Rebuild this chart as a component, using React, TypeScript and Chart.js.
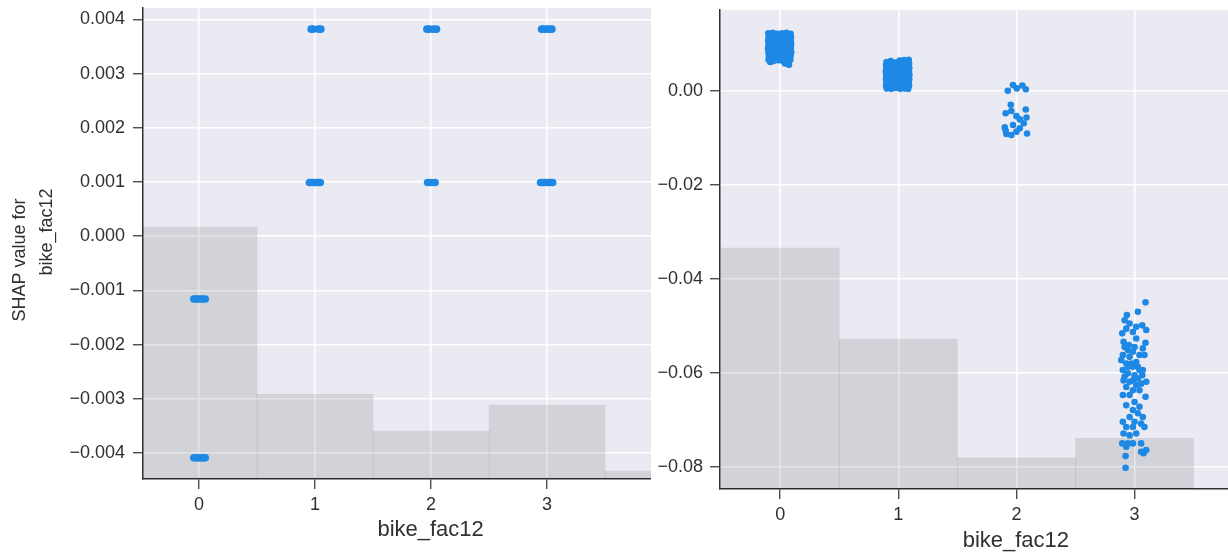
import React, { useEffect, useRef } from "react";
import { Chart, registerables } from "chart.js";

Chart.register(...registerables);

// ---------- data ----------
const X_TICKS = [0, 1, 2, 3];
const X_LABEL = "bike_fac12";
const Y_LABEL_LINES = ["SHAP value for", "bike_fac12"];

const LEFT_Y_TICKS = [-0.004, -0.003, -0.002, -0.001, 0, 0.001, 0.002, 0.003, 0.004];
const LEFT_Y_TICK_LABELS = ["−0.004", "−0.003", "−0.002", "−0.001", "0.000", "0.001", "0.002", "0.003", "0.004"];
const LEFT_X_RANGE = [-0.484, 4.476];
const LEFT_Y_RANGE = [-0.00448, 0.00421];
const LEFT_HIST_BINS = [0, 1, 2, 3, 4];
const LEFT_HIST_COUNTS = [535, 180, 102, 157, 17];
const LEFT_HIST_TOTAL = 1000;

// [jitter offset from category, SHAP value]
const LEFT_POINTS_0: [number, number][] = [
  [-0.046, -0.00116], [-0.028, -0.00116], [-0.01, -0.00116], [0.01, -0.00116], [0.03, -0.00116], [0.053, -0.00116],
  [-0.046, -0.00409], [-0.025, -0.00409], [-0.005, -0.00409], [0.015, -0.00409], [0.035, -0.00409], [0.053, -0.00409],
];
const LEFT_POINTS_1: [number, number][] = [
  [-0.034, 0.00382], [-0.018, 0.00382], [0.03, 0.00382], [0.05, 0.00382],
  [-0.049, 0.00099], [-0.03, 0.00099], [-0.01, 0.00099], [0.01, 0.00099], [0.03, 0.00099], [0.045, 0.00099],
];
const LEFT_POINTS_2: [number, number][] = [
  [-0.036, 0.00382], [-0.015, 0.00382], [0.02, 0.00382], [0.047, 0.00382],
  [-0.03, 0.00099], [0.0, 0.00099], [0.035, 0.00099],
];
const LEFT_POINTS_3: [number, number][] = [
  [-0.047, 0.00382], [-0.025, 0.00382], [0.0, 0.00382], [0.02, 0.00382], [0.042, 0.00382],
  [-0.056, 0.00099], [-0.035, 0.00099], [-0.012, 0.00099], [0.01, 0.00099], [0.03, 0.00099], [0.049, 0.00099],
];

const RIGHT_Y_TICKS = [-0.08, -0.06, -0.04, -0.02, 0];
const RIGHT_Y_TICK_LABELS = ["−0.08", "−0.06", "−0.04", "−0.02", "0.00"];
const RIGHT_X_RANGE = [-0.51, 4.5];
const RIGHT_Y_RANGE = [-0.0847, 0.01717];
const RIGHT_HIST_BINS = [0, 1, 2, 3];
const RIGHT_HIST_COUNTS = [503, 313, 65, 106];
const RIGHT_HIST_TOTAL = 1000;

const RIGHT_POINTS_0: [number, number][] = [
  [-0.101, 0.0122], [-0.062, 0.0123], [-0.022, 0.0121], [0.015, 0.0122], [0.053, 0.0123], [0.088, 0.0121],
  [-0.098, 0.0114], [-0.06, 0.0113], [-0.025, 0.0115], [0.012, 0.0114], [0.05, 0.0112], [0.091, 0.0114],
  [-0.102, 0.0106], [-0.064, 0.0105], [-0.026, 0.0107], [0.016, 0.0106], [0.054, 0.0104], [0.089, 0.0106],
  [-0.099, 0.0098], [-0.061, 0.0097], [-0.023, 0.0099], [0.013, 0.0097], [0.051, 0.0098], [0.092, 0.0099],
  [-0.103, 0.009], [-0.063, 0.0091], [-0.027, 0.0089], [0.017, 0.009], [0.055, 0.0089], [0.09, 0.0091],
  [-0.1, 0.0082], [-0.059, 0.0083], [-0.021, 0.0081], [0.014, 0.0082], [0.049, 0.0083], [0.093, 0.0082],
  [-0.097, 0.0074], [-0.062, 0.0075], [-0.024, 0.0073], [0.011, 0.0074], [0.052, 0.0072], [0.088, 0.0075],
  [-0.099, 0.0066], [-0.058, 0.0063], [-0.02, 0.0065], [0.018, 0.0064], [0.056, 0.0061], [0.086, 0.0066],
  [0.04, 0.0058], [0.074, 0.0055], [-0.085, 0.0061],
];
const RIGHT_POINTS_1: [number, number][] = [
  [-0.1, 0.0061], [-0.064, 0.0063], [-0.027, 0.006], [0.012, 0.0064], [0.05, 0.0065], [0.088, 0.0066],
  [-0.104, 0.0055], [-0.067, 0.0056], [-0.029, 0.0057], [0.009, 0.0056], [0.047, 0.0057], [0.091, 0.0058],
  [-0.102, 0.0048], [-0.065, 0.0049], [-0.026, 0.005], [0.011, 0.0049], [0.049, 0.005], [0.093, 0.0049],
  [-0.106, 0.0041], [-0.068, 0.0042], [-0.03, 0.0041], [0.008, 0.0043], [0.046, 0.0042], [0.09, 0.0041],
  [-0.103, 0.0034], [-0.063, 0.0033], [-0.025, 0.0035], [0.013, 0.0034], [0.051, 0.0033], [0.094, 0.0034],
  [-0.105, 0.0026], [-0.066, 0.0027], [-0.028, 0.0025], [0.01, 0.0026], [0.048, 0.0027], [0.092, 0.0025],
  [-0.101, 0.0018], [-0.064, 0.0019], [-0.027, 0.0017], [0.012, 0.0018], [0.05, 0.0019], [0.089, 0.0017],
  [-0.104, 0.0011], [-0.066, 0.001], [-0.029, 0.0012], [0.009, 0.0011], [0.047, 0.001], [0.091, 0.0011],
  [-0.098, 0.0005], [-0.06, 0.0004], [-0.022, 0.0006], [0.015, 0.0004], [0.053, 0.0005], [0.084, 0.0004],
];
const RIGHT_POINTS_2: [number, number][] = [
  [-0.073, 0.0], [-0.029, 0.0012], [0.003, 0.0005], [0.05, 0.0011], [0.079, 0.0003],
  [-0.048, -0.003],
  [-0.091, -0.0048], [-0.043, -0.0043], [0.0, -0.0054], [0.079, -0.004], [0.085, -0.0057], [0.028, -0.0061],
  [-0.099, -0.0078], [-0.085, -0.0092], [-0.029, -0.0073], [0.028, -0.008], [0.062, -0.0069],
  [0.09, -0.0091], [0.0, -0.0087], [-0.091, -0.0085], [-0.043, -0.0094],
];
const RIGHT_POINTS_3: [number, number][] = [
  [0.093, -0.045], [0.028, -0.047], [-0.065, -0.0477], [-0.084, -0.0488], [-0.042, -0.0495], [0.014, -0.0502],
  [0.065, -0.0499], [0.099, -0.0509], [-0.104, -0.0516], [-0.07, -0.0506], [-0.014, -0.0513],
  [0.014, -0.0527], [0.093, -0.0536], [0.07, -0.0548], [-0.084, -0.0545], [-0.056, -0.0552], [-0.014, -0.0555],
  [-0.099, -0.0562], [-0.042, -0.0566], [0.042, -0.0562], [0.084, -0.0562],
  [-0.07, -0.058], [-0.014, -0.0587], [0.028, -0.0587], [0.07, -0.0594], [-0.099, -0.0594], [-0.056, -0.0601],
  [0.0, -0.0605], [0.065, -0.0605], [0.099, -0.0619], [-0.093, -0.0616], [-0.042, -0.0619], [0.014, -0.0626],
  [0.056, -0.0623], [-0.07, -0.063], [-0.014, -0.0637], [0.042, -0.0637], [-0.099, -0.0647], [-0.042, -0.0647],
  [0.093, -0.0651], [0.0, -0.0662], [-0.07, -0.0669], [0.042, -0.0672], [-0.014, -0.0679], [0.028, -0.0686],
  [0.07, -0.0694], [-0.042, -0.0694], [-0.099, -0.0704], [0.0, -0.0704], [0.056, -0.0708], [-0.07, -0.0715],
  [-0.014, -0.0715], [0.084, -0.0715], [-0.093, -0.0729], [-0.042, -0.0733], [0.014, -0.0729],
  [-0.104, -0.075], [-0.056, -0.075], [-0.014, -0.075], [0.056, -0.075], [-0.07, -0.0757],
  [0.099, -0.0764], [0.076, -0.0771], [-0.076, -0.0777], [0.056, -0.0768], [-0.076, -0.0802],
  [-0.093, -0.0534], [-0.048, -0.0541], [0.0, -0.0545], [-0.112, -0.0573], [0.014, -0.0577], [-0.028, -0.058],
  [-0.084, -0.0608], [0.028, -0.0612], [-0.014, -0.0616], [-0.056, -0.0587], [0.042, -0.0594],
];

// ---------- style ----------
const FONT = '"Liberation Sans", Arial, sans-serif';
const TEXT_COLOR = "#303030";
const PLOT_BG = "#EAEAF2";
const POINT_COLOR = "#1E88E5";
const HIST_COLOR = "rgba(0,0,0,0.1)";

const plotBgPlugin = {
  id: "plotBg",
  beforeDraw(chart: any) {
    const { ctx, chartArea } = chart;
    ctx.save();
    ctx.fillStyle = PLOT_BG;
    ctx.fillRect(chartArea.left, chartArea.top, chartArea.right - chartArea.left, chartArea.bottom - chartArea.top);
    ctx.restore();
  },
};

const leftYTitlePlugin = {
  id: "leftYTitle",
  afterDraw(chart: any) {
    const ctx = chart.ctx;
    const centers = [
      [20, 260],
      [47, 232],
    ];
    ctx.save();
    ctx.fillStyle = TEXT_COLOR;
    ctx.font = `18px ${FONT}`;
    ctx.textAlign = "center";
    ctx.textBaseline = "middle";
    Y_LABEL_LINES.forEach((line, i) => {
      ctx.save();
      ctx.translate(centers[i][0], centers[i][1]);
      ctx.rotate(-Math.PI / 2);
      ctx.fillText(line, 0, 0);
      ctx.restore();
    });
    ctx.restore();
  },
};

function toXY(cat: number, pts: [number, number][]) {
  return pts.map(([dx, v]) => ({ x: cat + dx, y: v }));
}

function scatterSet(data: { x: number; y: number }[], radius: number) {
  return {
    type: "scatter" as const,
    data,
    yAxisID: "y",
    backgroundColor: POINT_COLOR,
    pointBackgroundColor: POINT_COLOR,
    pointRadius: radius,
    pointHoverRadius: radius,
    pointBorderWidth: 0,
    borderWidth: 0,
    order: 1,
  };
}

function histSet(bins: number[], counts: number[]) {
  return {
    type: "bar" as const,
    data: bins.map((b, i) => ({ x: b, y: counts[i] })),
    yAxisID: "y2",
    backgroundColor: HIST_COLOR,
    borderWidth: 0,
    barPercentage: 1,
    categoryPercentage: 1,
    order: 2,
  };
}

function makeOptions(cfg: {
  xRange: number[];
  yRange: number[];
  yTicks: number[];
  yTickLabels: string[];
  histTotal: number;
  yWidth: number;
  xHeight: number;
  padTop: number;
  yTickPad: number;
  xTitlePadBottom: number;
}) {
  return {
    animation: false,
    responsive: false,
    events: [],
    layout: { padding: { top: cfg.padTop, right: 2, left: 0, bottom: 0 } },
    plugins: { legend: { display: false }, tooltip: { enabled: false } },
    scales: {
      x: {
        type: "linear",
        min: cfg.xRange[0],
        max: cfg.xRange[1],
        offset: false,
        afterBuildTicks: (scale: any) => {
          scale.ticks = X_TICKS.map((v) => ({ value: v }));
        },
        afterFit: (scale: any) => {
          scale.height = cfg.xHeight;
          scale.paddingLeft = 0;
          scale.paddingRight = 0;
          scale.paddingTop = 0;
          scale.paddingBottom = 0;
        },
        grid: {
          offset: false,
          color: "#FFFFFF",
          lineWidth: 1.5,
          tickColor: TEXT_COLOR,
          tickLength: 10,
          tickWidth: 1.2,
          drawTicks: true,
        },
        border: { display: true, color: TEXT_COLOR, width: 1.5 },
        ticks: {
          autoSkip: false,
          maxRotation: 0,
          padding: 5,
          color: TEXT_COLOR,
          font: { family: FONT, size: 18 },
          callback: (v: any) => String(v),
        },
        title: {
          display: true,
          text: X_LABEL,
          color: TEXT_COLOR,
          font: { family: FONT, size: 22 },
          padding: { top: 0, bottom: cfg.xTitlePadBottom },
        },
      },
      y: {
        type: "linear",
        position: "left",
        min: cfg.yRange[0],
        max: cfg.yRange[1],
        afterBuildTicks: (scale: any) => {
          scale.ticks = cfg.yTicks.map((v) => ({ value: v }));
        },
        afterFit: (scale: any) => {
          scale.width = cfg.yWidth;
          scale.paddingTop = 0;
          scale.paddingBottom = 0;
          scale.paddingLeft = 0;
          scale.paddingRight = 0;
        },
        grid: {
          color: "#FFFFFF",
          lineWidth: 1.5,
          tickColor: TEXT_COLOR,
          tickLength: 10,
          tickWidth: 1.2,
          drawTicks: true,
        },
        border: { display: true, color: TEXT_COLOR, width: 1.5 },
        ticks: {
          autoSkip: false,
          padding: cfg.yTickPad,
          color: TEXT_COLOR,
          font: { family: FONT, size: 18 },
          callback: (v: any) => {
            const i = cfg.yTicks.indexOf(v);
            return i >= 0 ? cfg.yTickLabels[i] : "";
          },
        },
      },
      y2: {
        type: "linear",
        display: false,
        min: 0,
        max: cfg.histTotal,
      },
    },
  } as any;
}

export default function App() {
  const leftRef = useRef<HTMLCanvasElement>(null);
  const rightRef = useRef<HTMLCanvasElement>(null);

  useEffect(() => {
    if (!leftRef.current || !rightRef.current) return;

    const left = new Chart(leftRef.current, {
      type: "scatter",
      data: {
        datasets: [
          scatterSet(toXY(0, LEFT_POINTS_0), 3.8),
          scatterSet(toXY(1, LEFT_POINTS_1), 3.8),
          scatterSet(toXY(2, LEFT_POINTS_2), 3.8),
          scatterSet(toXY(3, LEFT_POINTS_3), 3.8),
          histSet(LEFT_HIST_BINS, LEFT_HIST_COUNTS),
        ] as any,
      },
      options: makeOptions({
        xRange: LEFT_X_RANGE,
        yRange: LEFT_Y_RANGE,
        yTicks: LEFT_Y_TICKS,
        yTickLabels: LEFT_Y_TICK_LABELS,
        histTotal: LEFT_HIST_TOTAL,
        yWidth: 143,
        xHeight: 75,
        padTop: 8,
        yTickPad: 8,
        xTitlePadBottom: 11,
      }),
      plugins: [plotBgPlugin, leftYTitlePlugin],
    });

    const right = new Chart(rightRef.current, {
      type: "scatter",
      data: {
        datasets: [
          scatterSet(toXY(0, RIGHT_POINTS_0), 3.3),
          scatterSet(toXY(1, RIGHT_POINTS_1), 3.3),
          scatterSet(toXY(2, RIGHT_POINTS_2), 3.3),
          scatterSet(toXY(3, RIGHT_POINTS_3), 3.3),
          histSet(RIGHT_HIST_BINS, RIGHT_HIST_COUNTS),
        ] as any,
      },
      options: makeOptions({
        xRange: RIGHT_X_RANGE,
        yRange: RIGHT_Y_RANGE,
        yTicks: RIGHT_Y_TICKS,
        yTickLabels: RIGHT_Y_TICK_LABELS,
        histTotal: RIGHT_HIST_TOTAL,
        yWidth: 69,
        xHeight: 65,
        padTop: 10,
        yTickPad: 7,
        xTitlePadBottom: 0,
      }),
      plugins: [plotBgPlugin],
    });

    return () => {
      left.destroy();
      right.destroy();
    };
  }, []);

  return (
    <div
      style={{
        position: "fixed",
        left: 0,
        top: 0,
        width: 1228,
        height: 554,
        overflow: "hidden",
        background: "#FFFFFF",
      }}
    >
      <canvas
        ref={leftRef}
        width={722}
        height={554}
        style={{ position: "absolute", left: 0, top: 0, width: 722, height: 554, display: "block" }}
      />
      <canvas
        ref={rightRef}
        width={664}
        height={554}
        style={{
          position: "absolute",
          left: 651,
          top: 0,
          width: 664,
          height: 554,
          display: "block",
          background: "#FFFFFF",
        }}
      />
    </div>
  );
}
